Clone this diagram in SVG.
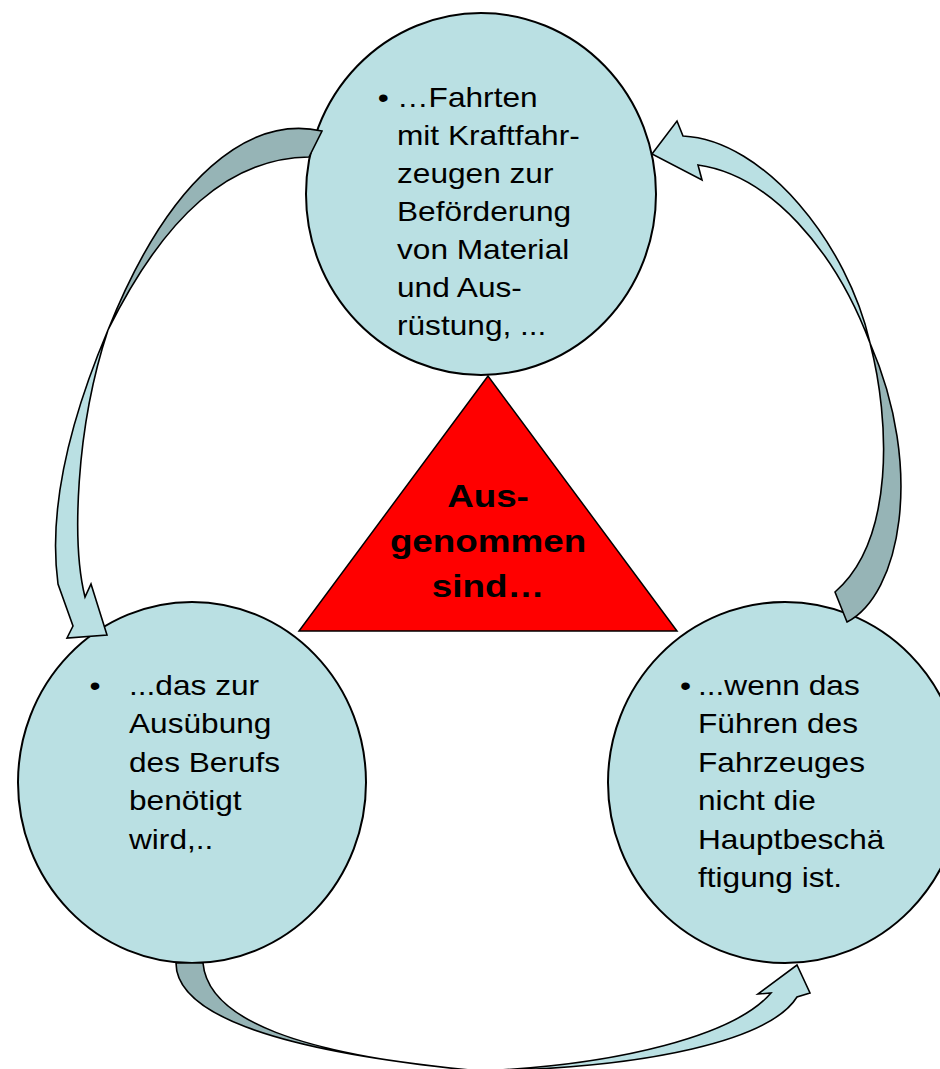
<svg xmlns="http://www.w3.org/2000/svg" width="940" height="1069" viewBox="0 0 940 1069">
<style>
.node{fill:#bae0e3;stroke:#000;stroke-width:2}
.tri{fill:#ff0000;stroke:#000;stroke-width:1.5}
.lt{fill:#bae0e3;stroke:#000;stroke-width:1.6;stroke-linejoin:miter}
.dk{fill:#96b4b6;stroke:#000;stroke-width:1.6;stroke-linejoin:miter}
.t{font-family:"Liberation Sans",Arial,sans-serif;font-size:28px;fill:#000}
.b{font-family:"Liberation Sans",Arial,sans-serif;font-size:32px;font-weight:bold;fill:#000;text-anchor:middle}
</style>
<rect width="940" height="1069" fill="#fff"/>
<g id="node-top">
<ellipse class="node" cx="481" cy="194" rx="175" ry="181"/>
<g transform="translate(397 0) scale(1.13 1)">
<text class="t" x="-17" y="107">•</text>
<text class="t" x="0" y="107">…Fahrten</text>
<text class="t" x="0" y="145">mit Kraftfahr-</text>
<text class="t" x="0" y="183">zeugen zur</text>
<text class="t" x="0" y="221">Beförderung</text>
<text class="t" x="0" y="259">von Material</text>
<text class="t" x="0" y="297">und Aus-</text>
<text class="t" x="0" y="335">rüstung, ...</text>
</g>
</g>
<g id="node-left">
<ellipse class="node" cx="192" cy="782.5" rx="174" ry="180.5"/>
<g transform="translate(129 0) scale(1.13 1)">
<text class="t" x="-35" y="695">•</text>
<text class="t" x="0" y="695">...das zur</text>
<text class="t" x="0" y="733.5">Ausübung</text>
<text class="t" x="0" y="772">des Berufs</text>
<text class="t" x="0" y="810.5">benötigt</text>
<text class="t" x="0" y="849">wird,..</text>
</g>
</g>
<g id="node-right">
<ellipse class="node" cx="785" cy="782.5" rx="177" ry="180.5"/>
<g transform="translate(698 0) scale(1.13 1)">
<text class="t" x="-16" y="695">•</text>
<text class="t" x="0" y="695">...wenn das</text>
<text class="t" x="0" y="733.5">Führen des</text>
<text class="t" x="0" y="772">Fahrzeuges</text>
<text class="t" x="0" y="810.5">nicht die</text>
<text class="t" x="0" y="849">Hauptbeschä</text>
<text class="t" x="0" y="887.5">ftigung ist.</text>
</g>
</g>
<g id="node-center">
<polygon class="tri" points="488,376 299,631 677,631"/>
<g transform="translate(488 0) scale(1.15 1)">
<text class="b" x="0" y="507">Aus-</text>
<text class="b" x="0" y="552">genommen</text>
<text class="b" x="0" y="597">sind…</text>
</g>
</g>
<g id="connectors">
<path class="dk" d="M322,131 C250,115 170,175 108,330 C165,215 230,158 309,157 Z"/>
<path class="lt" d="M108,330 C70,420 48,510 58,584 L73,626 L67,638 L107,635 L91,584 L85,597 C72,545 75,430 108,330 Z"/>
<path class="dk" d="M847,622 C900,595 925,470 870,343 C890,420 895,540 835,592 Z"/>
<path class="lt" d="M870,343 C848,245 765,140 683,136 L677,121 L652,154 L702,180 L698,165 C770,175 835,250 870,343 Z"/>
<path class="dk" d="M176,963 C176,1010 260,1050 480,1071 C300,1055 208,1020 203,963 Z"/>
<path class="lt" d="M480,1071 C620,1065 735,1035 771,993 L758,994 L797,965 L810,993 L797,997 C770,1040 650,1068 480,1071 Z"/>
</g>
</svg>
